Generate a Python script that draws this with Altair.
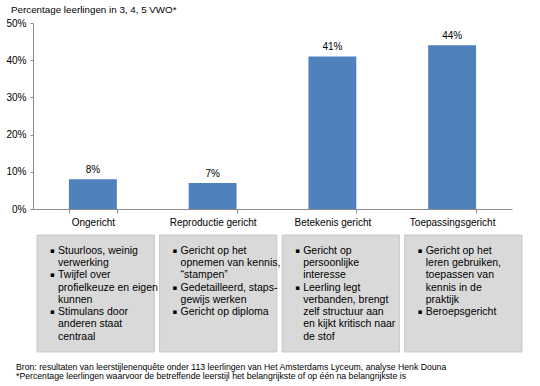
import altair as alt
import pandas as pd

categories = ["Ongericht", "Reproductie gericht", "Betekenis gericht", "Toepassingsgericht"]
values = [8, 7, 41, 44]
labels = ["8%", "7%", "41%", "44%"]
y_ticks = [0, 10, 20, 30, 40, 50]

box_lines = {
    "Ongericht": [
        (True, "Stuurloos, weinig"), (False, "verwerking"),
        (True, "Twijfel over"), (False, "profielkeuze en eigen"), (False, "kunnen"),
        (True, "Stimulans door"), (False, "anderen staat"), (False, "centraal"),
    ],
    "Reproductie gericht": [
        (True, "Gericht op het"), (False, "opnemen van kennis,"), (False, "\u201cstampen\u201d"),
        (True, "Gedetailleerd, staps-"), (False, "gewijs werken"),
        (True, "Gericht op diploma"),
    ],
    "Betekenis gericht": [
        (True, "Gericht op"), (False, "persoonlijke"), (False, "interesse"),
        (True, "Leerling legt"), (False, "verbanden, brengt"), (False, "zelf structuur aan"),
        (False, "en kijkt kritisch naar"), (False, "de stof"),
    ],
    "Toepassingsgericht": [
        (True, "Gericht op het"), (False, "leren gebruiken,"), (False, "toepassen van"),
        (False, "kennis in de"), (False, "praktijk"),
        (True, "Beroepsgericht"),
    ],
}

title_text = "Percentage leerlingen in 3, 4, 5 VWO*"
footnotes = [
    "Bron: resultaten van leerstijlenenquête onder 113 leerlingen van Het Amsterdams Lyceum, analyse Henk Douna",
    "*Percentage leerlingen waarvoor de betreffende leerstijl het belangrijkste of op één na belangrijkste is",
]

FONT = "Liberation Sans"
W, H = 479, 186

bars_df = pd.DataFrame({"cat": categories, "value": values, "label": labels})
rows = []
for c in categories:
    for i, (b, t) in enumerate(box_lines[c]):
        rows.append({"cat": c, "line": i, "text": t, "bullet": "\u25aa" if b else ""})
lines_df = pd.DataFrame(rows)
box_df = pd.DataFrame({"cat": categories})

xband = alt.Scale(domain=categories, paddingInner=0.6, paddingOuter=0.3)
ysc = alt.Scale(domain=[0, 50])

xaxis = alt.Axis(labelAngle=0, tickBand="extent", domainColor="#8c8c8c",
                 tickColor="#8c8c8c", tickSize=4, labelFont=FONT, labelFontSize=10,
                 labelColor="#000", labelPadding=4, title=None)
yaxis = alt.Axis(values=y_ticks, labelExpr="datum.value + '%'",
                 labelOverlap=False, labelFlush=False, title=None,
                 grid=False, domainColor="#8c8c8c", tickColor="#8c8c8c", tickSize=3,
                 labelFont=FONT, labelFontSize=10, labelColor="#000", labelPadding=4)

bar = alt.Chart(bars_df).mark_bar(color="#4F81BD").encode(
    x=alt.X("cat:N", sort=categories, scale=xband, title=None, axis=xaxis),
    y=alt.Y("value:Q", scale=ysc, title=None, axis=yaxis),
)
bar_text = alt.Chart(bars_df).mark_text(font=FONT, fontSize=10, dy=-9, color="#000").encode(
    x=alt.X("cat:N", sort=categories, scale=xband, title=None, axis=xaxis),
    y=alt.Y("value:Q", scale=ysc, title=None, axis=yaxis),
    text="label:N",
)
top = alt.layer(bar, bar_text)

bscale = alt.Scale(domain=categories, range=[4, 489], paddingInner=0.043, paddingOuter=0)
lscale = alt.Scale(domain=[0, 7], range=[227.7, 313.7])

boxes = alt.Chart(box_df).mark_rect(fill="#D9D9D9", stroke="#BFBFBF", strokeWidth=0.8).encode(
    x=alt.X("cat:N", sort=categories, scale=bscale, axis=None),
    y=alt.value(212),
    y2=alt.value(329),
)
bullets = alt.Chart(lines_df).mark_text(font="DejaVu Sans", fontSize=7, align="left", dx=13,
                                        color="#000").encode(
    x=alt.X("cat:N", sort=categories, scale=bscale, bandPosition=0, axis=None),
    y=alt.Y("line:Q", scale=lscale, axis=None),
    text="bullet:N",
)
texts = alt.Chart(lines_df).mark_text(font=FONT, fontSize=10.5, align="left", dx=21,
                                      color="#000").encode(
    x=alt.X("cat:N", sort=categories, scale=bscale, bandPosition=0, axis=None),
    y=alt.Y("line:Q", scale=lscale, axis=None),
    text="text:N",
)
bottom = alt.layer(boxes, bullets, texts)

title_df = pd.DataFrame({"t": [title_text]})
title = alt.Chart(title_df).mark_text(font=FONT, fontSize=9.8, align="left", color="#000").encode(
    x=alt.value(-22), y=alt.value(-13), text="t:N")

foot_df = pd.DataFrame({"t": footnotes, "i": [0, 1]})
foot = alt.Chart(foot_df).mark_text(font=FONT, fontSize=8.7, align="left", color="#000").encode(
    x=alt.value(-17),
    y=alt.Y("i:Q", scale=alt.Scale(domain=[0, 1], range=[343.5, 353]), axis=None),
    text="t:N")

chart = alt.layer(top, bottom, title, foot).resolve_scale(x="independent", y="independent").properties(
    width=W, height=H,
    autosize=alt.AutoSizeParams(type="none"),
    padding={"left": 33, "top": 23, "right": 28, "bottom": 177},
    background="white",
).configure_view(stroke=None)

chart.save("out.html", embed_options={"renderer": "svg", "actions": False})
